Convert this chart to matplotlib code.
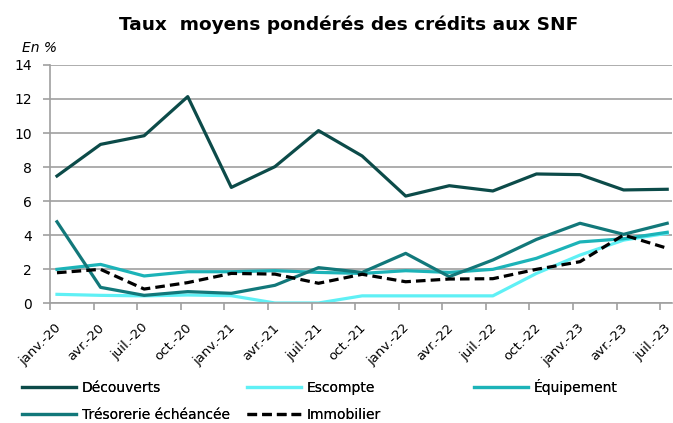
import matplotlib.pyplot as plt
import numpy as np

# trimestres
mois = ['janv.-20', 'avr.-20', 'juil.-20', 'oct.-20',
        'janv.-21', 'avr.-21', 'juil.-21', 'oct.-21',
        'janv.-22', 'avr.-22', 'juil.-22', 'oct.-22',
        'janv.-23', 'avr.-23', 'juil.-23']

decouverts = [7.47, 9.33, 9.84, 12.14, 6.80, 8.02, 10.14, 8.65,
              6.29, 6.90, 6.59, 7.59, 7.55, 6.65, 6.69]
escompte = [0.51, 0.45, 0.42, 0.47, 0.43, 0.0, 0.0, 0.42,
            0.42, 0.42, 0.42, 1.74, 2.82, 3.70, 4.10]
equipement = [1.98, 2.27, 1.59, 1.84, 1.84, 1.90, 1.80, 1.74,
              1.90, 1.80, 1.98, 2.63, 3.59, 3.78, 4.16]
tresorerie = [4.78, 0.92, 0.45, 0.67, 0.57, 1.04, 2.08, 1.80,
              2.92, 1.55, 2.53, 3.74, 4.69, 4.04, 4.69]
immobilier = [1.78, 1.98, 0.82, 1.20, 1.74, 1.70, 1.16, 1.69,
              1.25, 1.41, 1.43, 1.98, 2.43, 4.00, 3.22]

x = np.arange(len(mois)) + 0.16

fig = plt.figure(figsize=(6.73, 4.23), dpi=100)
ax = fig.add_axes([50/673, 1 - 303/423, 622/673, 238/423])

lw = 2.3
l1, = ax.plot(x, decouverts, color='#0c4b49', lw=lw, label='Découverts')
l2, = ax.plot(x, escompte, color='#5ff0f5', lw=lw, label='Escompte')
l3, = ax.plot(x, equipement, color='#1cb3b8', lw=lw, label='Équipement')
l4, = ax.plot(x, tresorerie, color='#12787a', lw=lw,
              label='Trésorerie échéancée')
l5, = ax.plot(x, immobilier, color='black', lw=lw, ls=(0, (3, 1.6)),
              label='Immobilier')

ax.set_xlim(0, 14.27)
ax.set_ylim(0, 14)
ax.set_yticks(range(0, 15, 2))
ax.yaxis.grid(True, color='#a0a0a0', lw=1.2)
ax.set_axisbelow(True)

# labels un peu a gauche du point, comme dans Excel
ax.set_xticks(x - 0.06)
ax.set_xticklabels(mois, rotation=45, ha='right', rotation_mode='anchor',
                   fontsize=9.5)
ax.tick_params(axis='x', which='major', length=0, pad=13)
ax.set_xticks(np.arange(len(mois)), minor=True)
ax.tick_params(axis='x', which='minor', length=5, color='#a0a0a0', width=1.2)
ax.tick_params(axis='y', length=5, color='#a0a0a0', width=1.2, labelsize=10,
               pad=8)

for s in ['top', 'right']:
    ax.spines[s].set_visible(False)
for s in ['left', 'bottom']:
    ax.spines[s].set_color('#a0a0a0')
    ax.spines[s].set_linewidth(1.2)

fig.text(349/673, 1 - 25/423, 'Taux  moyens pondérés des crédits aux SNF',
         ha='center', va='center', fontsize=13.3, fontweight='bold')
fig.text(22/673, 1 - 48/423, 'En %', ha='left', va='center',
         fontsize=10, style='italic')

# legende : une colonne par objet legend
cols = [([l1, l4], 22, 381), ([l2, l5], 247, 381), ([l3], 474, 379)]
for handles, xpos, ypos in cols:
    leg = fig.legend(handles=handles, loc='upper left',
                     bbox_to_anchor=(xpos/673, 1 - ypos/423),
                     frameon=False, fontsize=10, handlelength=3.9,
                     handletextpad=0.4, labelspacing=0.95, borderaxespad=0,
                     borderpad=0)
    fig.add_artist(leg)

fig.savefig('out.png', dpi=100)
